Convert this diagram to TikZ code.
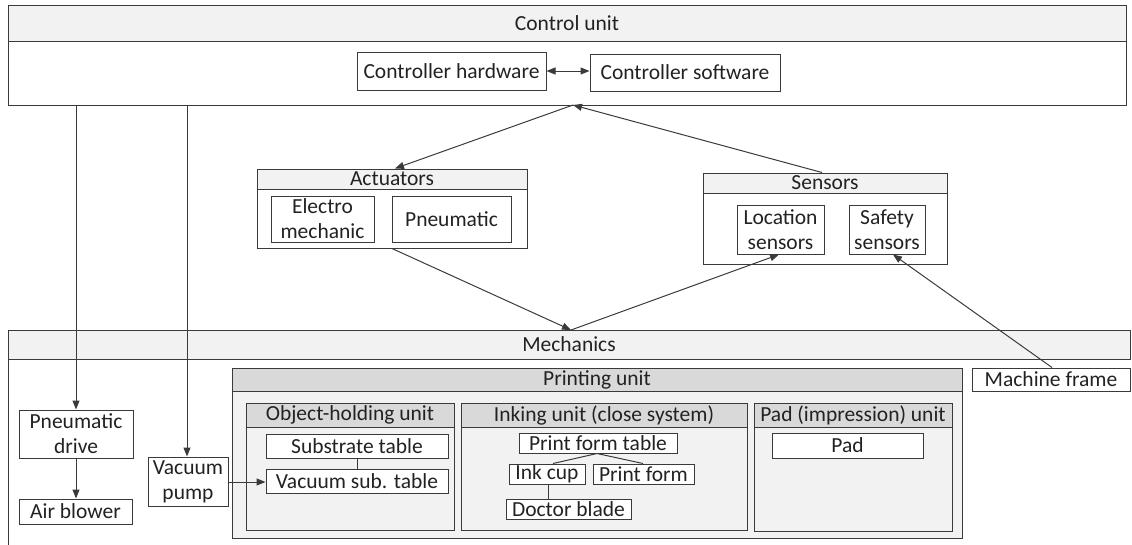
\documentclass[tikz,border=0pt]{standalone}
\usepackage{fontspec}
\setmainfont{Carlito}
\usetikzlibrary{arrows.meta}
\definecolor{ln}{HTML}{3A3A3A}
\definecolor{tx}{HTML}{222222}
\definecolor{hdlight}{HTML}{F2F2F2}
\definecolor{hddark}{HTML}{D9D9D9}
\tikzset{
  bx/.style={draw=ln, line width=1pt, inner sep=0pt, fill=white, text=tx,
    align=center, font=\fontsize{21.5}{25}\selectfont},
  lighthead/.style={fill=hdlight},
  darkhead/.style={fill=hddark},
  lightbody/.style={fill=hdlight},
  conn/.style={draw=ln, line width=1pt},
  arr/.style={conn, -{Triangle[length=9pt,width=7pt]}},
  darr/.style={conn, {Triangle[length=9pt,width=7pt]}-{Triangle[length=9pt,width=7pt]}},
}
% box by corners: [style]{name}{x1}{y1}{x2}{y2}{text}
\newcommand\bx[7][]{%
  \node[bx,#1,minimum width={(#5-#3)*1pt},minimum height={(#6-#4)*1pt}]
    (#2) at ({(#3+#5)/2},{(#4+#6)/2}) {#7};}
\begin{document}
\begin{tikzpicture}[x=1pt,y=-1pt]
\useasboundingbox (0,0) rectangle (1132,544);

% control unit
\bx[lighthead]{cuh}{8}{5}{1126}{41}{Control unit}
\bx{cub}{8}{41}{1126}{105}{}
\bx{hw}{357}{52}{546}{90}{Controller hardware}
\bx{sw}{590}{54}{780}{91}{Controller software}
\draw[darr] (hw.east) -- (sw.west |- hw.east);

% actuators
\bx[lighthead]{ach}{257}{169}{527}{189}{Actuators}
\bx{acb}{257}{189}{527}{248}{}
\bx{em}{271}{196}{374}{242}{Electro\\mechanic}
\bx{pn}{392}{196}{511}{242}{Pneumatic}

% sensors
\bx[lighthead]{seh}{703}{173}{947}{193}{Sensors}
\bx{seb}{703}{193}{947}{264}{}
\bx{loc}{737}{205}{824}{254}{Location\\sensors}
\bx{saf}{849}{205}{925}{254}{Safety\\sensors}

% mechanics
\bx[lighthead]{meh}{8}{330}{1130}{359}{Mechanics}
\draw[conn] (8,359) -- (8,560);

% printing unit
\bx[darkhead]{puh}{232}{368}{962}{391}{Printing unit}
\bx[lightbody]{pub}{232}{391}{962}{538}{}
\bx[darkhead]{ohh}{246}{403}{454}{427}{Object-holding unit}
\bx[lightbody]{ohb}{246}{427}{454}{530}{}
\bx[darkhead]{ikh}{461}{403}{747}{427}{Inking unit (close system)}
\bx[lightbody]{ikb}{461}{427}{747}{530}{}
\bx[darkhead]{pdh}{754}{403}{952}{427}{Pad (impression) unit}
\bx[lightbody]{pdb}{754}{427}{952}{531}{}

\bx{st}{266}{434}{448}{458}{Substrate table}
\bx{vst}{266}{469}{448}{493}{Vacuum sub. table}
\bx{pft}{519}{433}{677}{453}{Print form table}
\bx{ic}{509}{464}{585}{484}{Ink cup}
\bx{pf}{593}{464}{694}{484}{Print form}
\bx{db}{506}{499}{631}{519}{Doctor blade}
\bx{pad}{772}{433}{923}{458}{Pad}

% peripheral parts
\bx{pd}{19}{410}{133}{458}{Pneumatic\\drive}
\bx{ab}{19}{499}{132}{524}{Air blower}
\bx{vp}{148}{457}{228}{506}{Vacuum\\pump}
\bx{mf}{972}{368}{1130}{391}{Machine frame}

% connection points
\coordinate (hub) at (573,105);
\coordinate (mtop) at (571,330);
\coordinate (c1) at (76,105);
\coordinate (c2) at (187,105);

% connectors
\draw[arr] (c1) -- (c1 |- pd.north);
\draw[arr] (c2) -- (c2 |- vp.north);
\draw[arr] (pd.south -| c1) -- (ab.north -| c1);
\draw[arr] (vp.east |- 0,482) -- (vst.west |- 0,482);
\draw[arr] (hub) -- (ach.north -| 395,0);
\draw[arr] (seh.north -| 822,0) -- (hub);
\draw[arr] (acb.south -| 392,0) -- (mtop);
\draw[arr] (mtop) -- (loc.south -| 779,0);
\draw[arr] (mf.north -| 1052,0) -- (saf.south -| 893,0);

\draw[conn] (st.south -| 357,0) -- (vst.north -| 357,0);
\draw[conn] (pft.south -| 597,0) -- (ic.north -| 553,0);
\draw[conn] (pft.south -| 597,0) -- (pf.north -| 643,0);
\draw[conn] (ic.south -| 548,0) -- (db.north -| 548,0);
\end{tikzpicture}
\end{document}
